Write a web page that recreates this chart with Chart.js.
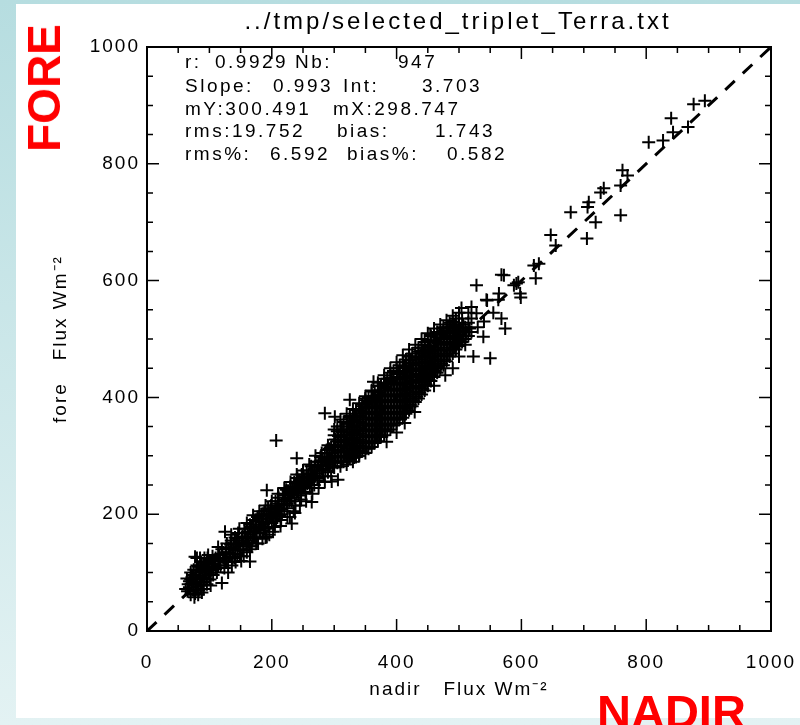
<!DOCTYPE html>
<html>
<head>
<meta charset="utf-8">
<script src="https://cdn.jsdelivr.net/npm/chart.js@4.4.1/dist/chart.umd.min.js"></script>
<style>
  html, body { margin: 0; padding: 0; }
  body {
    width: 800px; height: 725px; position: relative; overflow: hidden;
    background: linear-gradient(to bottom, #b6dde0 0%, #e3f2f3 100%);
  }
  #panel { position: absolute; left: 16px; top: 4px; right: 0; bottom: 7px; background: #fff; }
  #wrap { position: absolute; left: 0; top: 0; width: 800px; height: 725px; }
  .tag {
    position: absolute; color: #ff0000; line-height: 1; white-space: nowrap;
    font: bold 46px "Liberation Sans", Arial, sans-serif;
  }
  #fore { left: 44px; top: 88px; transform: translate(-50%, -50%) rotate(-90deg); }
  #nadir { left: 597px; top: 684px; font-size: 47px; }
</style>
</head>
<body>
<div id="panel"></div>
<div id="wrap"><canvas id="c"></canvas></div>
<div id="fore" class="tag">FORE</div>
<div id="nadir" class="tag">NADIR</div>
<script>
// [nadir, fore] flux pairs
const lowCluster = [
  [65,68],[68,75],[70,62],[72,80],[74,70],[75,88],[77,64],[78,95],[80,76],[81,84],
  [83,70],[84,100],[85,90],[86,78],[88,108],[89,95],[90,84],[91,72],[93,102],[94,114],
  [95,90],[96,80],[98,110],[99,97],[100,120],[101,88],[103,104],[104,115],[106,96],[108,122],
  [110,106],[112,100],[70,88],[73,96],[66,80],[79,104],[87,118],[92,125],[76,58],[82,62],
  [97,125],[105,128],[114,112],[102,78],[88,66],[70,100],[115,124],[95,105],[84,92],[78,82],
  [75,105],[80,112],[85,125],[90,112],[72,92],[68,85],[100,108],[106,110],[110,125],[96,118],
  [82,110],[62,72],[64,90],[92,92],[86,100],[102,96],[80,125],[98,130]
];
const band = [
  [116,130],[118,112],[120,140],[122,125],[124,108],[126,135],[128,150],[130,118],[131,142],[133,128],
  [135,155],[136,112],[138,140],[140,125],[141,160],[143,148],[145,132],[146,168],[148,152],[150,140],
  [151,120],[153,162],[155,148],[156,175],[158,160],[160,135],[161,170],[163,152],[165,182],[166,165],
  [168,145],[170,175],[171,190],[173,160],[175,178],[177,195],[178,150],[180,182],[182,168],[183,200],
  [185,188],[187,172],[188,205],[190,160],[192,192],[194,210],[195,178],[197,198],[199,215],[200,185],
  [202,170],[204,205],[206,222],[207,192],[209,212],[211,228],[213,198],[214,180],[216,218],[218,235],
  [220,205],[221,225],[223,242],[225,210],[227,232],[229,195],[230,248],[232,222],[234,238],[236,255],
  [238,215],[239,242],[241,262],[243,232],[245,250],[247,225],[248,268],[250,245],[252,258],[254,238],
  [256,275],[257,252],[259,268],[261,245],[263,282],[265,262],[266,275],[268,250],[270,290],[272,270],
  [274,282],[276,258],[278,298],[280,278],[281,292],[283,265],[285,305],[287,285],[289,298],[290,272],
  [292,312],[294,292],[296,305],[298,282],[299,318],
  [130,100],[135,165],[142,118],[148,175],[155,128],[160,185],[165,140],[170,198],[175,150],[180,205],
  [185,158],[190,215],[196,165],[200,222],[205,178],[210,235],[215,190],[220,245],[225,195],[230,255],
  [235,205],[240,268],[245,215],[250,275],[255,222],[260,285],[265,235],[270,300],[275,245],[280,305],
  [285,255],[290,318],[295,265],[300,345],[160,150],[170,160],[180,172],[190,185],[200,195],[210,205],
  [220,215],[230,228],[240,238],[250,255],[260,258],[270,265],[280,290],[290,288],
  [77,127],[114,144],[120,82],[128,119],[165,119],[125,170],[192,241],[207,326],[240,296],[264,221],
  [296,256],[306,259],[232,184],[237,202],[192,161]
];
const bandFill = [
  [117,120],[121,132],[125,118],[127,142],[132,135],[134,148],[137,125],[139,150],[142,138],[144,158],
  [147,145],[149,128],[152,155],[154,138],[157,168],[159,150],[162,162],[164,145],[167,178],[169,158],
  [172,170],[174,188],[176,160],[179,192],[181,175],[184,182],[186,198],[189,175],[191,200],[193,185],
  [196,192],[198,208],[201,195],[203,188],[206,212],[208,200],[211,218],[213,208],[216,200],[219,222],
  [222,232],[224,218],[226,240],[228,222],[231,235],[233,245],[236,228],[238,252],[242,240],[244,258],
  [246,235],[249,255],[251,265],[253,248],[256,262],[258,255],[262,270],[264,250],[267,265],[269,282],
  [273,262],[275,290],[277,275],[279,285],[282,275],[284,295],[286,278],[288,310],[291,295],[293,282],
  [295,315],[297,298]
];
const core = [
  [300,280],[300,300],[300,318],[300,335],[305,288],[305,306],[305,325],[305,342],
  [310,282],[310,298],[310,315],[310,332],[310,350],[315,290],[315,308],[315,325],[315,345],
  [320,285],[320,300],[320,318],[320,336],[320,355],[325,295],[325,312],[325,330],[325,350],[325,365],
  [330,290],[330,305],[330,322],[330,340],[330,360],[335,298],[335,315],[335,335],[335,352],[335,372],
  [340,300],[340,318],[340,338],[340,358],[340,378],[345,308],[345,325],[345,345],[345,365],[345,385],
  [350,305],[350,322],[350,342],[350,362],[350,382],[350,398],[355,312],[355,332],[355,352],[355,372],[355,392],
  [360,315],[360,335],[360,355],[360,375],[360,395],[360,410],[365,322],[365,342],[365,362],[365,382],[365,402],
  [370,325],[370,345],[370,365],[370,385],[370,405],[370,420],[375,332],[375,352],[375,372],[375,392],[375,412],
  [380,335],[380,355],[380,375],[380,395],[380,415],[380,432],[385,342],[385,362],[385,382],[385,402],[385,422],
  [390,345],[390,365],[390,385],[390,405],[390,425],[390,442],[395,352],[395,372],[395,392],[395,412],[395,432],
  [400,355],[400,375],[400,395],[400,415],[400,435],[400,450],[405,362],[405,382],[405,402],[405,422],[405,442],
  [410,365],[410,385],[410,405],[410,425],[410,445],[410,460],[415,372],[415,392],[415,412],[415,432],[415,452],
  [420,378],[420,398],[420,418],[420,438],[420,458],[420,470],[425,385],[425,405],[425,425],[425,445],[425,465],
  [430,392],[430,410],[430,430],[430,450],[430,470],[435,398],[435,418],[435,438],[435,458],[435,478],
  [440,405],[440,425],[440,445],[440,465],[440,485],[445,412],[445,432],[445,452],[445,472],[445,490],
  [450,420],[450,440],[450,460],[450,480],[450,498],[455,428],[455,448],[455,468],[455,488],
  [460,435],[460,455],[460,475],[460,495],[465,442],[465,462],[465,482],[465,502],
  [470,450],[470,470],[470,490],[470,508],[475,455],[475,475],[475,495],[475,515],
  [480,462],[480,482],[480,502],[480,520],[485,470],[485,490],[485,510],
  [490,475],[490,495],[490,515],[490,530],[495,482],[495,502],[495,522],
  [500,488],[500,508],[500,528],[505,495],[505,515],[505,535],[510,500],[510,520],
  [515,505],[515,528],[520,512],[520,535]
];
const coreFill = [
  [302,290],[302,310],[302,328],[307,297],[307,316],[307,334],
  [312,290],[312,306],[312,323],[312,341],[317,299],[317,317],[317,335],
  [322,292],[322,309],[322,327],[322,345],[327,303],[327,321],[327,340],[327,358],
  [332,297],[332,313],[332,331],[332,350],[337,306],[337,325],[337,343],[337,362],
  [342,309],[342,328],[342,348],[342,368],[347,316],[347,335],[347,355],[347,375],
  [352,313],[352,332],[352,352],[352,372],[352,390],[357,322],[357,342],[357,362],[357,382],
  [362,325],[362,345],[362,365],[362,385],[362,402],[367,332],[367,352],[367,372],[367,392],
  [372,335],[372,355],[372,375],[372,395],[372,412],[377,342],[377,362],[377,382],[377,402],
  [382,345],[382,365],[382,385],[382,405],[382,424],[387,352],[387,372],[387,392],[387,412],
  [392,355],[392,375],[392,395],[392,415],[392,434],[397,362],[397,382],[397,402],[397,422],
  [402,365],[402,385],[402,405],[402,425],[402,443],[407,372],[407,392],[407,412],[407,432],
  [412,375],[412,395],[412,415],[412,435],[412,452],[417,382],[417,402],[417,422],[417,442],
  [422,388],[422,408],[422,428],[422,448],[422,464],[427,395],[427,415],[427,435],[427,455],
  [432,401],[432,420],[432,440],[432,460],[437,408],[437,428],[437,448],[437,468],
  [442,415],[442,435],[442,455],[442,475],[447,422],[447,442],[447,462],[447,481],
  [452,430],[452,450],[452,470],[452,489],[457,438],[457,458],[457,478],
  [462,445],[462,465],[462,485],[467,452],[467,472],[467,492],
  [472,458],[472,480],[472,500],[477,465],[477,485],[477,505],
  [482,472],[482,492],[482,512],[487,480],[487,500],[487,520],
  [492,485],[492,505],[492,522],[497,492],[497,512],[502,498],[502,518],[507,505],[507,525],
  [512,512],[517,518]
];
const coreTop = [
  [305,350],[310,362],[315,358],[320,372],[325,368],[330,380],[335,378],[340,390],[345,388],[350,402],
  [355,400],[360,412],[365,410],[370,425],[375,420],[380,438],[385,432],[390,450],[395,445],[400,460],
  [405,455],[410,472],[415,465],[420,482],[425,475],[430,490],[435,485],[440,500],[445,495],[450,510],
  [455,505],[460,518],[465,512],[470,525],[475,520],[480,532],[485,528],[490,540],[495,535],[500,545],
  [312,345],[322,355],[332,368],[342,378],[352,388],[362,398],[372,408],[382,418],[392,428],[402,440],
  [412,450],[422,458],[432,468],[442,478],[452,488],[462,498],[472,508],[482,518],[492,525]
];
const upper = [
  [325,396],[301,367],[363,427],[384,324],[413,356],[429,375],[454,507],[478,438],[504,553],[523,470],
  [528,544],[539,504],[544,567],[550,467],[563,567],[568,535],[574,518],[528,592],[568,610],[592,595],
  [598,578],[545,566],[564,578],[572,609],[588,592],[595,597],[599,571],[620,626],[623,604],[628,629],
  [285,373],[340,300],[400,340],[420,470],[460,420],[470,510],[440,480],[380,425],[350,395],[490,450],
  [515,545],[530,520],[520,555],[555,545],[540,530],[510,490],[500,470]
];
const topOutliers = [
  [894,908],[876,902],[840,878],[867,863],[843,854],[827,840],[804,837],[762,789],[770,780],[759,763],
  [732,758],[727,751],[708,734],[706,726],[679,717],[719,700],[759,712],[705,672],[647,678],[655,660]
];
const oneToOne = [0, 1000];

const titleText = "../tmp/selected_triplet_Terra.txt";
const statsLines = [
  [["r:", 185], ["0.9929", 215], ["Nb:", 295], ["947", 398]],
  [["Slope:", 185], ["0.993", 273], ["Int:", 343], ["3.703", 422]],
  [["mY:300.491", 185], ["mX:298.747", 333]],
  [["rms:19.752", 185], ["bias:", 337], ["1.743", 435]],
  [["rms%:", 185], ["6.592", 270], ["bias%:", 347], ["0.582", 447]]
];
const statsY = [63, 87, 110, 132, 155];

const points = [].concat(lowCluster, band, bandFill, core, coreFill, coreTop, upper, topOutliers)
  .map(p => ({ x: p[0], y: p[1] }));

const FONT = "Liberation Sans";

// wide letter spacing, like the plotting package's stroke font
const spacing = {
  id: "spacing",
  beforeDraw(chart) { chart.ctx.letterSpacing = "2px"; }
};

const frame = {
  id: "frame",
  afterDatasetsDraw(chart) {
    const { ctx, chartArea: a, scales: { x, y } } = chart;
    ctx.save();
    ctx.strokeStyle = "#000";
    ctx.lineWidth = 2;
    ctx.strokeRect(a.left, a.top, a.right - a.left, a.bottom - a.top);
    ctx.lineWidth = 1.5;
    ctx.beginPath();
    for (let v = 0; v <= 1000; v += 50) {
      const len = v % 200 === 0 ? 12 : 6;
      const px = x.getPixelForValue(v), py = y.getPixelForValue(v);
      ctx.moveTo(px, a.bottom); ctx.lineTo(px, a.bottom - len);
      ctx.moveTo(px, a.top); ctx.lineTo(px, a.top + len);
      ctx.moveTo(a.left, py); ctx.lineTo(a.left + len, py);
      ctx.moveTo(a.right, py); ctx.lineTo(a.right - len, py);
    }
    ctx.stroke();

    ctx.fillStyle = "#000";
    ctx.textBaseline = "middle";
    ctx.textAlign = "center";
    ctx.letterSpacing = "3px";
    ctx.font = `24px "${FONT}"`;
    ctx.fillText(titleText, 458, 22);

    ctx.textAlign = "left";
    ctx.letterSpacing = "2.5px";
    ctx.font = `19px "${FONT}"`;
    statsLines.forEach((line, i) => {
      line.forEach(([t, tx]) => ctx.fillText(t, tx, statsY[i]));
    });
    ctx.restore();
  }
};

new Chart(document.getElementById("c"), {
  type: "scatter",
  data: {
    datasets: [
      {
        type: "line",
        data: oneToOne.map(v => ({ x: v, y: v })),
        borderColor: "#000",
        borderWidth: 3,
        borderDash: [13, 11],
        pointRadius: 0,
        fill: false
      },
      {
        data: points,
        pointStyle: "cross",
        pointRadius: 6.5,
        borderWidth: 2,
        borderColor: "#000",
        backgroundColor: "#000"
      }
    ]
  },
  options: {
    responsive: true,
    maintainAspectRatio: false,
    animation: false,
    layout: { padding: { left: 0, top: 47, right: 29, bottom: 0 } },
    plugins: { legend: { display: false }, tooltip: { enabled: false } },
    scales: {
      x: {
        type: "linear", min: 0, max: 1000,
        afterFit(s) { s.height = 94; s.paddingLeft = 0; s.paddingRight = 0; },
        ticks: { stepSize: 200, color: "#000", padding: 20, maxRotation: 0,
                 callback: v => String(v),
                 font: { family: FONT, size: 19 } },
        grid: { display: false, drawTicks: false },
        border: { display: false },
        title: { display: true, text: "nadir   Flux Wm⁻²", color: "#000",
                 font: { family: FONT, size: 19 }, padding: { top: 0, bottom: 24 } }
      },
      y: {
        type: "linear", min: 0, max: 1000,
        afterFit(s) { s.width = 147; s.paddingTop = 0; s.paddingBottom = 0; },
        ticks: { stepSize: 200, color: "#000", padding: 7,
                 callback: v => String(v),
                 font: { family: FONT, size: 19 } },
        grid: { display: false, drawTicks: false },
        border: { display: false },
        title: { display: true, text: "fore   Flux Wm⁻²", color: "#000",
                 font: { family: FONT, size: 19 }, padding: { top: 49, bottom: 0 } }
      }
    }
  },
  plugins: [spacing, frame]
});
</script>
</body>
</html>
